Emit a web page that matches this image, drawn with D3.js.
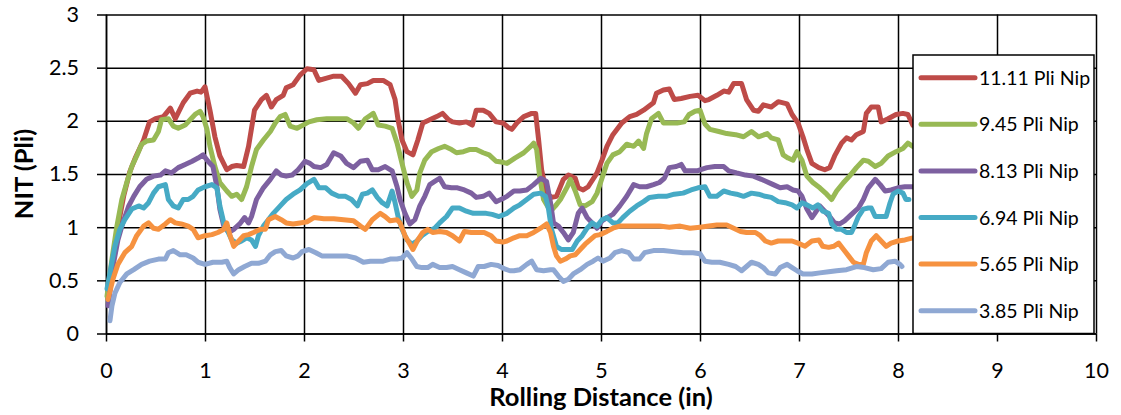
<!DOCTYPE html>
<html lang="en">
<head>
<meta charset="UTF-8" />
<title>NIT vs Rolling Distance</title>
<script src="https://d3js.org/d3.v7.min.js"></script>
<style>
    body { margin: 0; background: #fff; font-family: Lato, "Open Sans", sans-serif; }
    .grid line { stroke: #000; stroke-width: 1.5px; }
    .grid .domain { display: none; }
    .axis path, .axis line { stroke: #000; stroke-width: 1.5px; }
    .axis text { font-family: Lato, sans-serif; font-size: 21.5px; fill: #000; }
    .series { fill: none; stroke-width: 5px; stroke-linejoin: round; stroke-linecap: round; }
    .title { font-family: Lato, sans-serif; font-weight: bold; font-size: 25.5px; }
    .legend text { font-family: Lato, sans-serif; font-size: 19.5px; }
</style>
</head>
<body>
<div id="chart"></div>
<script>
    // series values: [rolling distance (in), NIT (Pli)]
    const nip1111 = [[0.03,0.33],[0.08,0.75],[0.13,1.05],[0.18,1.30],[0.24,1.52],[0.30,1.66],[0.38,1.82],[0.44,1.99],[0.50,2.02],[0.58,2.04],[0.65,2.12],[0.70,2.02],[0.78,2.17],[0.85,2.26],[0.92,2.28],[0.96,2.27],[1.00,2.32],[1.05,2.10],[1.10,1.85],[1.15,1.67],[1.22,1.54],[1.27,1.57],[1.32,1.58],[1.39,1.57],[1.44,1.76],[1.50,2.10],[1.57,2.20],[1.62,2.24],[1.67,2.13],[1.72,2.20],[1.79,2.24],[1.82,2.31],[1.89,2.34],[1.96,2.43],[2.03,2.49],[2.10,2.48],[2.15,2.38],[2.22,2.40],[2.30,2.42],[2.38,2.42],[2.45,2.35],[2.52,2.26],[2.57,2.34],[2.64,2.35],[2.70,2.38],[2.80,2.38],[2.87,2.34],[2.92,2.20],[2.95,2.01],[2.99,1.82],[3.04,1.71],[3.10,1.68],[3.15,1.82],[3.20,1.98],[3.27,2.01],[3.34,2.04],[3.40,2.07],[3.46,2.01],[3.50,1.99],[3.57,1.98],[3.64,1.99],[3.70,1.96],[3.74,2.10],[3.81,2.10],[3.87,2.07],[3.94,1.99],[4.01,1.98],[4.06,1.94],[4.10,1.92],[4.15,1.98],[4.22,2.04],[4.30,2.07],[4.34,2.07],[4.37,1.82],[4.40,1.54],[4.45,1.32],[4.50,1.28],[4.55,1.29],[4.62,1.45],[4.67,1.49],[4.74,1.46],[4.77,1.37],[4.82,1.35],[4.87,1.38],[4.96,1.51],[5.01,1.63],[5.06,1.76],[5.12,1.87],[5.21,1.98],[5.29,2.04],[5.36,2.06],[5.43,2.10],[5.53,2.17],[5.56,2.26],[5.63,2.29],[5.69,2.30],[5.74,2.20],[5.81,2.21],[5.90,2.23],[5.98,2.24],[6.05,2.19],[6.09,2.20],[6.17,2.24],[6.24,2.28],[6.29,2.27],[6.34,2.35],[6.42,2.35],[6.47,2.20],[6.54,2.10],[6.59,2.09],[6.64,2.15],[6.72,2.13],[6.79,2.18],[6.88,2.16],[6.93,2.06],[6.99,1.98],[7.04,1.85],[7.08,1.73],[7.13,1.60],[7.20,1.56],[7.26,1.54],[7.31,1.56],[7.36,1.67],[7.43,1.79],[7.48,1.84],[7.53,1.82],[7.58,1.87],[7.65,1.90],[7.68,2.07],[7.73,2.13],[7.80,2.13],[7.83,1.99],[7.90,2.02],[7.98,2.06],[8.05,2.07],[8.10,2.06],[8.15,1.96]];

    const nip945 = [[0.01,0.35],[0.06,0.70],[0.11,1.01],[0.16,1.26],[0.21,1.42],[0.26,1.57],[0.31,1.67],[0.36,1.78],[0.41,1.81],[0.48,1.82],[0.53,1.90],[0.56,2.01],[0.63,2.02],[0.68,1.95],[0.73,1.93],[0.80,1.96],[0.85,2.01],[0.90,2.06],[0.95,2.09],[0.98,2.04],[1.02,1.92],[1.05,1.76],[1.10,1.57],[1.15,1.42],[1.22,1.34],[1.27,1.29],[1.32,1.31],[1.37,1.26],[1.42,1.38],[1.47,1.57],[1.52,1.73],[1.59,1.82],[1.66,1.90],[1.71,1.98],[1.76,2.04],[1.81,2.06],[1.86,1.95],[1.93,1.93],[1.99,1.96],[2.05,1.99],[2.13,2.01],[2.23,2.02],[2.33,2.02],[2.43,2.02],[2.50,1.98],[2.55,1.93],[2.62,2.02],[2.70,2.07],[2.75,1.96],[2.82,1.95],[2.89,1.93],[2.94,1.79],[2.99,1.60],[3.04,1.42],[3.09,1.29],[3.14,1.35],[3.17,1.51],[3.22,1.63],[3.29,1.71],[3.36,1.74],[3.42,1.76],[3.49,1.73],[3.54,1.70],[3.61,1.71],[3.67,1.73],[3.74,1.73],[3.81,1.70],[3.87,1.68],[3.94,1.62],[4.01,1.61],[4.05,1.60],[4.13,1.65],[4.22,1.70],[4.29,1.76],[4.32,1.79],[4.35,1.73],[4.38,1.48],[4.42,1.26],[4.49,1.15],[4.54,1.20],[4.59,1.26],[4.66,1.38],[4.69,1.45],[4.74,1.34],[4.79,1.21],[4.84,1.20],[4.91,1.24],[4.96,1.32],[5.01,1.46],[5.06,1.60],[5.12,1.68],[5.19,1.71],[5.26,1.78],[5.33,1.76],[5.38,1.81],[5.43,1.74],[5.46,1.88],[5.51,2.02],[5.58,2.07],[5.63,1.98],[5.69,1.98],[5.77,1.98],[5.84,1.99],[5.89,2.06],[5.95,2.09],[6.00,2.10],[6.05,1.97],[6.10,1.92],[6.19,1.90],[6.27,1.88],[6.36,1.87],[6.44,1.85],[6.52,1.90],[6.59,1.85],[6.68,1.88],[6.72,1.84],[6.79,1.82],[6.84,1.68],[6.89,1.65],[6.94,1.63],[6.98,1.71],[7.03,1.63],[7.08,1.48],[7.14,1.42],[7.21,1.37],[7.28,1.31],[7.33,1.26],[7.38,1.34],[7.45,1.42],[7.51,1.48],[7.58,1.56],[7.65,1.63],[7.70,1.62],[7.77,1.57],[7.83,1.60],[7.90,1.67],[7.98,1.71],[8.05,1.74],[8.10,1.79],[8.15,1.76]];

    const nip813 = [[0.02,0.26],[0.07,0.63],[0.12,0.88],[0.17,1.04],[0.23,1.20],[0.28,1.29],[0.34,1.38],[0.41,1.45],[0.48,1.48],[0.55,1.49],[0.60,1.53],[0.66,1.51],[0.73,1.56],[0.80,1.59],[0.87,1.62],[0.93,1.65],[0.98,1.68],[1.03,1.62],[1.08,1.57],[1.12,1.38],[1.15,1.17],[1.19,1.01],[1.24,0.95],[1.29,0.98],[1.35,1.03],[1.40,1.09],[1.44,1.04],[1.47,1.10],[1.52,1.26],[1.59,1.37],[1.66,1.45],[1.72,1.53],[1.77,1.49],[1.82,1.48],[1.88,1.49],[1.94,1.54],[2.01,1.62],[2.06,1.60],[2.10,1.57],[2.17,1.56],[2.23,1.59],[2.30,1.70],[2.37,1.67],[2.43,1.60],[2.50,1.56],[2.57,1.62],[2.64,1.63],[2.69,1.54],[2.75,1.54],[2.82,1.57],[2.89,1.53],[2.94,1.38],[2.97,1.26],[3.02,1.13],[3.07,1.03],[3.12,1.07],[3.17,1.20],[3.22,1.29],[3.27,1.40],[3.32,1.43],[3.37,1.46],[3.42,1.38],[3.49,1.37],[3.55,1.37],[3.62,1.35],[3.69,1.32],[3.74,1.28],[3.81,1.29],[3.87,1.32],[3.94,1.24],[4.01,1.27],[4.05,1.29],[4.12,1.34],[4.18,1.34],[4.25,1.35],[4.32,1.40],[4.39,1.46],[4.45,1.43],[4.49,1.23],[4.52,1.04],[4.57,1.01],[4.62,0.95],[4.67,0.88],[4.72,0.95],[4.77,1.13],[4.81,1.18],[4.86,1.09],[4.91,1.04],[4.96,0.99],[5.01,1.06],[5.06,1.09],[5.12,1.12],[5.19,1.20],[5.26,1.29],[5.33,1.40],[5.39,1.38],[5.46,1.38],[5.53,1.40],[5.59,1.42],[5.64,1.46],[5.69,1.56],[5.76,1.57],[5.81,1.59],[5.85,1.53],[5.91,1.53],[5.97,1.53],[6.07,1.56],[6.15,1.57],[6.24,1.57],[6.29,1.53],[6.37,1.51],[6.46,1.49],[6.54,1.48],[6.62,1.45],[6.67,1.43],[6.74,1.40],[6.81,1.37],[6.88,1.38],[6.94,1.35],[6.99,1.34],[7.03,1.29],[7.08,1.17],[7.13,1.09],[7.16,1.13],[7.21,1.20],[7.26,1.15],[7.31,1.10],[7.36,1.04],[7.41,1.03],[7.46,1.06],[7.53,1.12],[7.60,1.18],[7.65,1.26],[7.70,1.37],[7.77,1.45],[7.82,1.40],[7.87,1.34],[7.93,1.35],[8.00,1.37],[8.07,1.38],[8.15,1.38]];

    const nip694 = [[0.01,0.42],[0.04,0.57],[0.09,0.82],[0.14,0.98],[0.19,1.07],[0.26,1.17],[0.33,1.20],[0.38,1.18],[0.43,1.23],[0.48,1.32],[0.53,1.38],[0.60,1.40],[0.63,1.26],[0.68,1.20],[0.73,1.18],[0.78,1.26],[0.83,1.26],[0.88,1.29],[0.93,1.35],[1.00,1.38],[1.07,1.40],[1.12,1.37],[1.15,1.20],[1.19,1.04],[1.22,0.98],[1.27,0.88],[1.32,0.85],[1.37,0.87],[1.42,0.90],[1.47,0.88],[1.51,0.82],[1.54,0.92],[1.59,1.01],[1.64,1.07],[1.69,1.13],[1.76,1.20],[1.82,1.26],[1.89,1.31],[1.96,1.35],[2.03,1.41],[2.10,1.45],[2.15,1.37],[2.22,1.37],[2.28,1.32],[2.35,1.29],[2.42,1.29],[2.48,1.26],[2.54,1.20],[2.59,1.31],[2.64,1.32],[2.69,1.35],[2.74,1.28],[2.79,1.23],[2.84,1.20],[2.89,1.34],[2.92,1.23],[2.95,1.10],[2.99,0.98],[3.04,0.88],[3.09,0.84],[3.14,0.87],[3.19,0.92],[3.25,0.96],[3.32,0.99],[3.37,1.04],[3.44,1.10],[3.50,1.18],[3.57,1.18],[3.64,1.15],[3.71,1.13],[3.77,1.13],[3.84,1.13],[3.90,1.12],[3.97,1.10],[4.05,1.13],[4.12,1.18],[4.18,1.21],[4.25,1.26],[4.32,1.31],[4.39,1.32],[4.44,1.29],[4.47,1.17],[4.50,0.98],[4.55,0.82],[4.60,0.79],[4.65,0.79],[4.71,0.79],[4.76,0.87],[4.81,0.92],[4.86,0.99],[4.91,1.04],[4.96,1.01],[5.01,1.07],[5.06,1.09],[5.12,1.04],[5.17,1.04],[5.22,1.09],[5.29,1.15],[5.36,1.20],[5.43,1.24],[5.49,1.28],[5.58,1.29],[5.66,1.29],[5.74,1.31],[5.83,1.32],[5.91,1.35],[5.98,1.37],[6.05,1.38],[6.10,1.29],[6.17,1.29],[6.24,1.34],[6.31,1.32],[6.37,1.31],[6.44,1.29],[6.52,1.32],[6.59,1.31],[6.66,1.29],[6.72,1.28],[6.79,1.24],[6.86,1.23],[6.93,1.21],[6.98,1.18],[7.03,1.23],[7.08,1.21],[7.14,1.18],[7.19,1.21],[7.24,1.15],[7.30,1.13],[7.33,1.03],[7.38,0.98],[7.43,0.98],[7.48,0.95],[7.53,0.95],[7.56,1.01],[7.60,1.10],[7.65,1.17],[7.70,1.18],[7.73,1.18],[7.77,1.10],[7.83,1.10],[7.88,1.10],[7.92,1.23],[7.95,1.31],[8.00,1.34],[8.05,1.32],[8.08,1.26],[8.11,1.26]];

    const nip565 = [[0.02,0.32],[0.07,0.51],[0.12,0.65],[0.19,0.76],[0.26,0.82],[0.31,0.92],[0.38,1.01],[0.43,1.04],[0.48,0.99],[0.53,0.98],[0.60,1.03],[0.65,1.07],[0.70,1.04],[0.76,1.03],[0.83,1.01],[0.88,0.98],[0.93,0.90],[1.00,0.92],[1.07,0.93],[1.13,0.95],[1.19,0.98],[1.22,1.04],[1.25,0.93],[1.29,0.82],[1.34,0.87],[1.39,0.92],[1.44,0.93],[1.49,0.95],[1.56,0.98],[1.61,0.98],[1.64,1.07],[1.71,1.10],[1.77,1.07],[1.82,1.04],[1.89,1.03],[1.96,1.04],[2.03,1.05],[2.10,1.09],[2.20,1.08],[2.30,1.08],[2.40,1.07],[2.50,1.06],[2.57,1.01],[2.62,0.98],[2.69,1.07],[2.77,1.13],[2.82,1.10],[2.87,1.06],[2.94,1.07],[2.97,1.04],[3.02,0.92],[3.07,0.84],[3.10,0.79],[3.15,0.88],[3.20,0.95],[3.25,0.98],[3.30,0.95],[3.37,0.96],[3.44,0.95],[3.50,0.92],[3.57,0.87],[3.62,0.96],[3.69,0.95],[3.76,0.95],[3.82,0.95],[3.89,0.92],[3.94,0.87],[4.01,0.86],[4.05,0.87],[4.12,0.90],[4.18,0.92],[4.25,0.92],[4.32,0.95],[4.39,0.99],[4.45,1.03],[4.49,0.95],[4.52,0.82],[4.55,0.73],[4.59,0.68],[4.64,0.70],[4.69,0.73],[4.74,0.74],[4.79,0.79],[4.84,0.84],[4.89,0.88],[4.94,0.92],[4.99,0.93],[5.06,0.96],[5.12,0.99],[5.19,1.01],[5.29,1.01],[5.39,1.01],[5.49,1.01],[5.59,1.01],[5.69,1.00],[5.80,1.01],[5.90,0.99],[6.00,1.00],[6.09,1.01],[6.17,1.02],[6.27,1.02],[6.34,0.99],[6.41,0.96],[6.47,0.95],[6.56,0.95],[6.61,0.92],[6.66,0.87],[6.72,0.85],[6.79,0.87],[6.86,0.87],[6.93,0.87],[6.99,0.85],[7.06,0.82],[7.13,0.87],[7.20,0.88],[7.24,0.82],[7.30,0.81],[7.35,0.82],[7.40,0.85],[7.45,0.79],[7.50,0.73],[7.55,0.67],[7.60,0.65],[7.65,0.65],[7.68,0.76],[7.73,0.87],[7.78,0.92],[7.83,0.87],[7.88,0.82],[7.93,0.85],[8.00,0.87],[8.07,0.88],[8.15,0.90]];

    const nip385 = [[0.04,0.12],[0.06,0.26],[0.09,0.38],[0.14,0.48],[0.21,0.56],[0.28,0.60],[0.36,0.65],[0.44,0.68],[0.53,0.70],[0.60,0.70],[0.63,0.76],[0.68,0.78],[0.75,0.74],[0.81,0.74],[0.88,0.71],[0.93,0.67],[1.00,0.65],[1.08,0.67],[1.17,0.67],[1.22,0.68],[1.25,0.62],[1.29,0.56],[1.34,0.60],[1.40,0.63],[1.47,0.66],[1.54,0.66],[1.61,0.68],[1.66,0.74],[1.71,0.77],[1.77,0.78],[1.82,0.73],[1.89,0.71],[1.94,0.73],[1.98,0.77],[2.05,0.79],[2.12,0.76],[2.18,0.73],[2.27,0.73],[2.35,0.73],[2.43,0.73],[2.52,0.71],[2.60,0.67],[2.67,0.68],[2.74,0.68],[2.80,0.68],[2.87,0.70],[2.94,0.70],[2.99,0.71],[3.04,0.76],[3.09,0.70],[3.14,0.63],[3.19,0.62],[3.25,0.62],[3.30,0.65],[3.37,0.62],[3.44,0.62],[3.50,0.63],[3.57,0.60],[3.64,0.57],[3.71,0.54],[3.76,0.63],[3.82,0.63],[3.89,0.65],[3.96,0.64],[4.02,0.61],[4.08,0.59],[4.12,0.59],[4.18,0.60],[4.25,0.65],[4.30,0.68],[4.35,0.60],[4.42,0.59],[4.49,0.60],[4.52,0.60],[4.57,0.54],[4.62,0.49],[4.67,0.51],[4.72,0.56],[4.79,0.60],[4.86,0.65],[4.92,0.68],[4.97,0.71],[5.02,0.68],[5.09,0.71],[5.14,0.76],[5.21,0.78],[5.28,0.76],[5.33,0.70],[5.39,0.70],[5.44,0.76],[5.53,0.78],[5.63,0.78],[5.73,0.77],[5.83,0.76],[5.93,0.76],[6.00,0.75],[6.05,0.68],[6.12,0.67],[6.20,0.67],[6.29,0.65],[6.36,0.63],[6.42,0.59],[6.47,0.63],[6.52,0.67],[6.59,0.65],[6.64,0.62],[6.69,0.57],[6.76,0.56],[6.81,0.62],[6.88,0.65],[6.93,0.62],[6.98,0.59],[7.04,0.56],[7.13,0.56],[7.21,0.57],[7.30,0.58],[7.38,0.59],[7.48,0.60],[7.58,0.63],[7.66,0.62],[7.75,0.60],[7.83,0.61],[7.90,0.67],[7.97,0.68],[8.02,0.65],[8.04,0.63]];

    const seriesNames = ["11.11 Pli Nip", "9.45 Pli Nip", "8.13 Pli Nip", "6.94 Pli Nip", "5.65 Pli Nip", "3.85 Pli Nip"];
    const seriesValues = [nip1111, nip945, nip813, nip694, nip565, nip385];
    const colors = ["#BE4B48", "#98B954", "#7D60A0", "#46AAC5", "#F69240", "#8FA8D3"];
    const xTicks = [0, 1, 2, 3, 4, 5, 6, 7, 8, 9, 10];
    const yTicks = [0, 0.5, 1, 1.5, 2, 2.5, 3];

    const W = 1121, H = 415;
    const margin = { top: 14.5, right: 25, bottom: 81.5, left: 106 },
          width = W - margin.left - margin.right,
          height = H - margin.top - margin.bottom;

    const root = d3.select("#chart").append("svg")
        .attr("width", W)
        .attr("height", H);

    const svg = root.append("g")
        .attr("transform", `translate(${margin.left},${margin.top})`);

    const x = d3.scaleLinear().domain([0, 10]).range([0, width]);
    const y = d3.scaleLinear().domain([0, 3]).range([height, 0]);

    // gridlines
    svg.append("g")
        .attr("class", "grid")
        .call(d3.axisLeft(y).tickValues(yTicks).tickSize(-width).tickFormat(""));

    svg.append("g")
        .attr("class", "grid")
        .call(d3.axisBottom(x).tickValues(xTicks).tickSize(height).tickFormat(""));

    // axes
    svg.append("g")
        .attr("class", "axis")
        .attr("transform", `translate(0,${height})`)
        .call(d3.axisBottom(x).tickValues(xTicks).tickSize(8).tickSizeOuter(0).tickPadding(21).tickFormat(d3.format("d")));

    svg.append("g")
        .attr("class", "axis")
        .call(d3.axisLeft(y).tickValues(yTicks).tickSize(9).tickSizeOuter(0).tickPadding(18).tickFormat(d => String(d)));

    // lines, first series at the bottom
    const line = d3.line()
        .x(d => x(d[0]))
        .y(d => y(d[1]));

    seriesValues.forEach((vals, i) => {
        svg.append("path")
            .datum(vals)
            .attr("class", "series")
            .attr("stroke", colors[i])
            .attr("d", line);
    });

    // axis titles
    root.append("text")
        .attr("class", "title")
        .attr("x", margin.left + width / 2)
        .attr("y", 406)
        .attr("text-anchor", "middle")
        .text("Rolling Distance (in)");

    root.append("text")
        .attr("class", "title")
        .attr("transform", `translate(33,${margin.top + height / 2}) rotate(-90)`)
        .attr("text-anchor", "middle")
        .text("NIT (Pli)");

    // legend
    const legend = root.append("g").attr("class", "legend")
        .attr("transform", "translate(913,55)");

    legend.append("rect")
        .attr("width", 181)
        .attr("height", 278.5)
        .attr("fill", "#fff")
        .attr("stroke", "#000")
        .attr("stroke-width", 1.5);

    seriesNames.forEach((name, i) => {
        const g = legend.append("g")
            .attr("transform", `translate(0,${22.7 + i * 46.6})`);
        g.append("line")
            .attr("x1", 8).attr("x2", 62)
            .attr("stroke", colors[i])
            .attr("stroke-width", 5)
            .attr("stroke-linecap", "round");
        g.append("text")
            .attr("x", 66)
            .attr("dy", "0.36em")
            .text(name);
    });
</script>
</body>
</html>
